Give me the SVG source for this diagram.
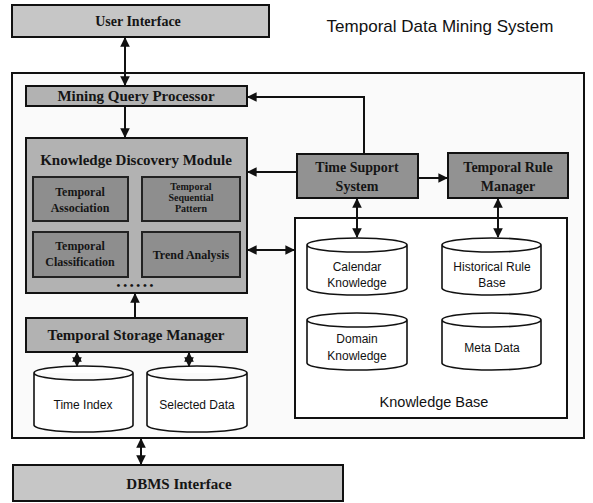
<svg xmlns="http://www.w3.org/2000/svg" width="593" height="503" viewBox="0 0 593 503">
  <style>
    .box { stroke: #111; stroke-width: 2; }
    .lt { fill: #c6c6c6; }
    .md { fill: #b2b2b2; }
    .dk { fill: #929292; }
    .sub { fill: #8e8e8e; stroke: #222; stroke-width: 2; }
    .lbl { font-family: "Liberation Serif", "Times New Roman", serif; font-weight: bold; fill: #151515; text-anchor: middle; }
    .db { fill: #fff; stroke: #111; stroke-width: 1.6; }
    .dbt { font-family: "Liberation Sans", Arial, sans-serif; font-size: 12px; fill: #111; text-anchor: middle; }
    .wire { fill: none; stroke: #111; stroke-width: 2; }
  </style>
  <defs>
    <marker id="head" viewBox="0 0 10 10" refX="9" refY="5" markerWidth="4.8" markerHeight="4.8" orient="auto-start-reverse" markerUnits="strokeWidth">
      <path d="M0,0 L10,5 L0,10 Z" fill="#111"/>
    </marker>
  </defs>

  <rect width="593" height="503" fill="#fff"/>

  <!-- title -->
  <text x="440" y="32" font-family="'Liberation Sans', Arial, sans-serif" font-size="17" fill="#111" text-anchor="middle">Temporal Data Mining System</text>

  <g id="user-interface">
    <rect class="box lt" x="12" y="5" width="257" height="32"/>
    <text class="lbl" x="138" y="26" font-size="14">User Interface</text>
  </g>

  <!-- system frame -->
  <g id="system">
    <rect x="12" y="73" width="572" height="365" fill="#fafafa" stroke="#111" stroke-width="2"/>
  </g>

  <g id="mining-query-processor">
    <rect class="box md" x="26" y="86" width="221" height="20"/>
    <text class="lbl" x="136" y="101" font-size="15">Mining Query Processor</text>
  </g>

  <g id="knowledge-discovery-module">
    <rect class="box md" x="26" y="138" width="221" height="155"/>
    <text class="lbl" x="136" y="165" font-size="15">Knowledge Discovery Module</text>
    <g id="temporal-association">
      <rect class="sub" x="33" y="177" width="95" height="44"/>
      <text class="lbl" x="80" y="196" font-size="12">Temporal</text>
      <text class="lbl" x="80" y="212" font-size="12">Association</text>
    </g>
    <g id="temporal-sequence">
      <rect class="sub" x="142" y="177" width="98" height="44"/>
      <text class="lbl" x="191" y="190" font-size="10">Temporal</text>
      <text class="lbl" x="191" y="201" font-size="10">Sequential</text>
      <text class="lbl" x="191" y="212" font-size="10">Pattern</text>
    </g>
    <g id="temporal-classification">
      <rect class="sub" x="33" y="232" width="95" height="45"/>
      <text class="lbl" x="80" y="250" font-size="12">Temporal</text>
      <text class="lbl" x="80" y="266" font-size="12">Classification</text>
    </g>
    <g id="trend-analysis">
      <rect class="sub" x="142" y="232" width="98" height="45"/>
      <text class="lbl" x="191" y="259" font-size="12">Trend Analysis</text>
    </g>
    <text class="lbl" x="135" y="289" font-size="11">• • • • • •</text>
  </g>

  <g id="time-support-system">
    <rect class="box dk" x="297" y="154" width="121" height="44"/>
    <text class="lbl" x="357" y="172" font-size="14">Time Support</text>
    <text class="lbl" x="357" y="191" font-size="14">System</text>
  </g>

  <g id="temporal-rule-manager">
    <rect class="box dk" x="448" y="153" width="120" height="45"/>
    <text class="lbl" x="508" y="172" font-size="14">Temporal Rule</text>
    <text class="lbl" x="508" y="191" font-size="14">Manager</text>
  </g>

  <g id="knowledge-base">
    <rect x="295" y="218" width="272" height="200" fill="#fff" stroke="#111" stroke-width="2"/>
    <text x="434" y="407" font-family="'Liberation Sans', Arial, sans-serif" font-size="14.5" fill="#111" text-anchor="middle">Knowledge Base</text>
    <g id="calendar-knowledge">
      <path class="db" d="M307,245 A50,7 0 0 1 407,245 V288 A50,7 0 0 1 307,288 Z M307,245 A50,7 0 0 0 407,245"/>
      <text class="dbt" x="357" y="271">Calendar</text>
      <text class="dbt" x="357" y="287">Knowledge</text>
    </g>
    <g id="historical-rule-base">
      <path class="db" d="M442,245 A49.5,7 0 0 1 541,245 V288 A49.5,7 0 0 1 442,288 Z M442,245 A49.5,7 0 0 0 541,245"/>
      <text class="dbt" x="492" y="271">Historical Rule</text>
      <text class="dbt" x="492" y="287">Base</text>
    </g>
    <g id="domain-knowledge">
      <path class="db" d="M307,320 A50,7 0 0 1 407,320 V363 A50,7 0 0 1 307,363 Z M307,320 A50,7 0 0 0 407,320"/>
      <text class="dbt" x="357" y="343">Domain</text>
      <text class="dbt" x="357" y="360">Knowledge</text>
    </g>
    <g id="meta-data">
      <path class="db" d="M442,320 A49.5,7 0 0 1 541,320 V363 A49.5,7 0 0 1 442,363 Z M442,320 A49.5,7 0 0 0 541,320"/>
      <text class="dbt" x="492" y="352">Meta Data</text>
    </g>
  </g>

  <g id="temporal-storage-manager">
    <rect class="box md" x="26" y="318" width="221" height="34"/>
    <text class="lbl" x="136" y="340" font-size="15">Temporal Storage Manager</text>
  </g>

  <g id="time-index">
    <path class="db" d="M34,373 A49.5,7 0 0 1 133,373 V425 A49.5,7 0 0 1 34,425 Z M34,373 A49.5,7 0 0 0 133,373"/>
    <text class="dbt" x="83" y="409">Time Index</text>
  </g>

  <g id="selected-data">
    <path class="db" d="M147,373 A50,7 0 0 1 247,373 V425 A50,7 0 0 1 147,425 Z M147,373 A50,7 0 0 0 247,373"/>
    <text class="dbt" x="197" y="409">Selected Data</text>
  </g>

  <g id="dbms-interface">
    <rect class="box lt" x="13" y="465" width="330" height="36"/>
    <text class="lbl" x="179" y="489" font-size="15">DBMS Interface</text>
  </g>

  <g id="connectors">
    <line class="wire" x1="125" y1="38" x2="125" y2="85" marker-start="url(#head)" marker-end="url(#head)"/>
    <line class="wire" x1="125" y1="107" x2="125" y2="137" marker-end="url(#head)"/>
    <polyline class="wire" points="364,153 364,97 248,97" marker-end="url(#head)"/>
    <line class="wire" x1="296" y1="172" x2="248" y2="172" marker-end="url(#head)"/>
    <line class="wire" x1="419" y1="178" x2="447" y2="178" marker-end="url(#head)"/>
    <line class="wire" x1="357" y1="199" x2="357" y2="237" marker-start="url(#head)" marker-end="url(#head)"/>
    <line class="wire" x1="498" y1="199" x2="498" y2="237" marker-start="url(#head)" marker-end="url(#head)"/>
    <line class="wire" x1="248" y1="250" x2="294" y2="250" marker-start="url(#head)" marker-end="url(#head)"/>
    <line class="wire" x1="135" y1="317" x2="135" y2="294" marker-end="url(#head)"/>
    <line class="wire" x1="77" y1="353" x2="77" y2="366" marker-start="url(#head)" marker-end="url(#head)"/>
    <line class="wire" x1="189" y1="353" x2="189" y2="366" marker-start="url(#head)" marker-end="url(#head)"/>
    <line class="wire" x1="141" y1="439" x2="141" y2="464" marker-start="url(#head)" marker-end="url(#head)"/>
  </g>
</svg>
